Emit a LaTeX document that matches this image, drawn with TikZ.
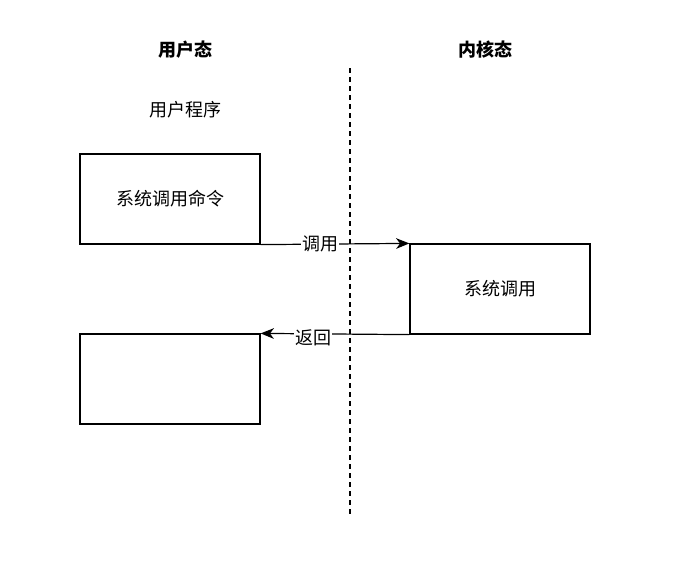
\documentclass[tikz,border=0pt]{standalone}
\usepackage{fontspec}
\setmainfont{Noto Sans CJK SC}
\usetikzlibrary{arrows.meta,positioning}

\begin{document}
\begin{tikzpicture}[x=0.75pt, y=-0.75pt, font=\fontsize{13.5}{16}\selectfont,
    box/.style={draw, line width=0.9pt, minimum width=135pt, minimum height=67.5pt},
    call/.style={-{Stealth[length=10pt, width=8pt, inset=3pt]}, line width=0.9pt}]
        \useasboundingbox (0,0) rectangle (697,562);
        \node (US) [font=\fontsize{13.5}{16}\selectfont\bfseries] at (185,50) {用户态};
        \node (KS) [font=\fontsize{13.5}{16}\selectfont\bfseries] at (485,50) {内核态};
        \node (UP) at (185,110) {用户程序};
        \node (CMD) [box] at (170,199) {系统调用命令};
        \node (SYS) [box] at (500,289) {系统调用};
        \node (RET) [box] at (170,379) {};
        \coordinate (top) at (350,68);
        \coordinate (bot) at (350,515);

        \draw[dash pattern=on 3.5pt off 3.25pt, line width=0.9pt] (top) -- (bot);
        \draw[call] (CMD.south east) -- (SYS.north west)
            node[pos=0.4, fill=white, inner sep=1pt] {调用};
        \draw[call] (SYS.south west) -- (RET.north east)
            node[pos=0.647, fill=white, inner sep=1pt, yshift=-3pt] {返回};
    \end{tikzpicture}
\end{document}
